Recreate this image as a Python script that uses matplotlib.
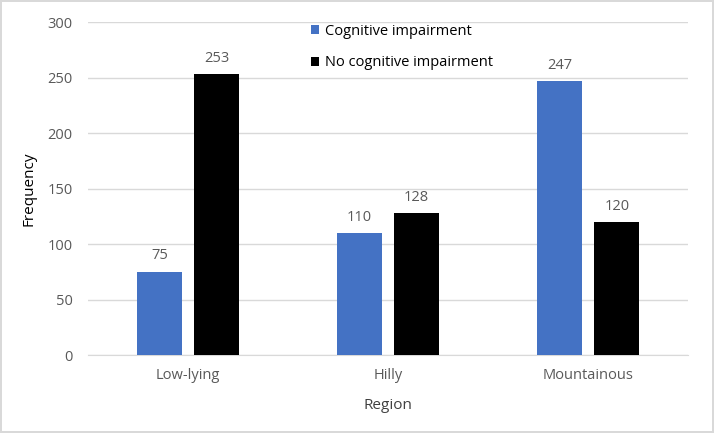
import matplotlib.pyplot as plt
import numpy as np

regions = ['Low-lying', 'Hilly', 'Mountainous']
cognitive = [75, 110, 247]
no_cognitive = [253, 128, 120]
series_labels = ['Cognitive impairment', 'No cognitive impairment']

text_color = '#595959'
plt.rcParams['font.family'] = ['Open Sans', 'DejaVu Sans']

fig = plt.figure(figsize=(7.14, 4.33), dpi=100)
fig.patch.set_edgecolor('#d9d9d9')
fig.patch.set_linewidth(1.5)
ax = fig.add_axes([0.123, 0.180, 0.841, 0.769])

x = np.arange(len(regions))
w = 0.225
off = 0.1425
b1 = ax.bar(x - off, cognitive, w, color='#4472c4', label=series_labels[0], zorder=3)
b2 = ax.bar(x + off, no_cognitive, w, color='#000000', label=series_labels[1], zorder=3)

for bars in (b1, b2):
    for rect in bars:
        h = rect.get_height()
        ax.annotate(f'{h:g}', (rect.get_x() + rect.get_width() / 2, h),
                    xytext=(0, 6), textcoords='offset points',
                    ha='center', va='bottom', fontsize=10.5, color=text_color)

ax.set_xlim(-0.5, 2.5)
ax.set_ylim(0, 300)
ax.set_yticks(range(0, 301, 50))
ax.set_xticks(x)
ax.set_xticklabels(regions)
ax.yaxis.grid(True, color='#d9d9d9', linewidth=1, zorder=0)
ax.set_axisbelow(True)
for s in ['top', 'right', 'left']:
    ax.spines[s].set_visible(False)
ax.spines['bottom'].set_color('#d9d9d9')
ax.tick_params(axis='y', length=0, labelsize=10.5, colors=text_color, pad=11)
ax.tick_params(axis='x', length=0, labelsize=10.5, colors=text_color, pad=9)

ax.set_xlabel('Region', fontsize=11, color='#404040', labelpad=11)
ax.set_ylabel('Frequency', fontsize=11, color='black', labelpad=8)

ax.legend(loc='upper center', bbox_to_anchor=(0.523, 1.035), frameon=False,
          fontsize=10.5, labelcolor='black', handlelength=0.55, handleheight=0.55,
          handletextpad=0.4, labelspacing=1.15)

plt.savefig('out.png', dpi=100)
